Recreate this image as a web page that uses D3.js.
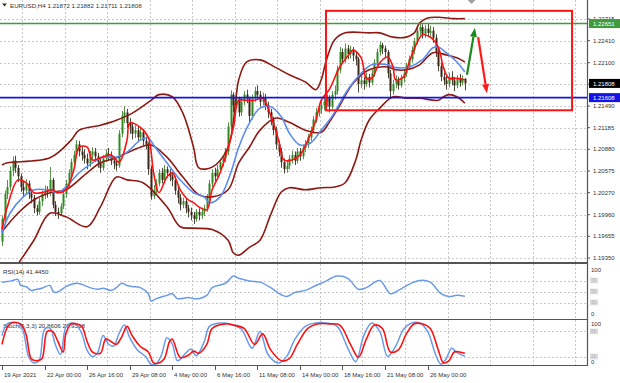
<!DOCTYPE html>
<html><head><meta charset="utf-8">
<script src="https://cdn.jsdelivr.net/npm/d3@7"></script>
<style>body{margin:0;background:#fff}svg{display:block}text{font-family:"Liberation Sans",Arial,sans-serif}</style>
</head><body><svg id="c" width="620" height="383"></svg>
<script>
// ---------------- DATA ----------------
const chartTitle = "EURUSD,H4 1.21872 1.21882 1.21711 1.21808";
const rsiTitle = "RSI(14) 41.4450";
const stochTitle = "Stoch(5,3,3) 20.8606 27.9318";
const firstOpen = 1.1958;
const closes = [1.1990,1.2025,1.2035,1.2058,1.2072,1.2062,1.2050,1.2035,1.2030,1.2040,
1.2025,1.2020,1.2005,1.2000,1.2015,1.2025,1.2030,1.2028,1.2045,1.2010,
1.2000,1.1998,1.2008,1.2025,1.2040,1.2055,1.2070,1.2080,1.2095,1.2085,
1.2080,1.2075,1.2068,1.2080,1.2085,1.2078,1.2070,1.2062,1.2075,1.2082,
1.2080,1.2072,1.2068,1.2065,1.2110,1.2135,1.2140,1.2125,1.2120,1.2110,
1.2115,1.2105,1.2112,1.2100,1.2095,1.2060,1.2022,1.2030,1.2040,1.2055,
1.2045,1.2060,1.2055,1.2050,1.2045,1.2030,1.2020,1.2010,1.2015,1.2005,
1.2000,1.1995,1.1990,1.2000,1.1995,1.2000,1.2005,1.2020,1.2040,1.2055,
1.2050,1.2060,1.2070,1.2075,1.2085,1.2120,1.2165,1.2150,1.2160,1.2140,
1.2155,1.2165,1.2160,1.2135,1.2160,1.2170,1.2165,1.2155,1.2160,1.2150,
1.2140,1.2130,1.2115,1.2095,1.2085,1.2070,1.2060,1.2065,1.2075,1.2080,
1.2072,1.2085,1.2078,1.2090,1.2095,1.2105,1.2115,1.2130,1.2140,1.2145,
1.2150,1.2155,1.2160,1.2148,1.2165,1.2170,1.2200,1.2225,1.2215,1.2230,
1.2222,1.2228,1.2220,1.2215,1.2180,1.2185,1.2180,1.2190,1.2182,1.2195,
1.2210,1.2225,1.2235,1.2230,1.2225,1.2195,1.2170,1.2180,1.2185,1.2178,
1.2188,1.2195,1.2205,1.2215,1.2228,1.2240,1.2255,1.2260,1.2250,1.2258,
1.2252,1.2255,1.2245,1.2225,1.2205,1.2190,1.2185,1.2180,1.2190,1.2185,
1.2178,1.2188,1.2182,1.21872,1.21808];
const highs = [1.1995,1.2030,1.2045,1.2064,1.2078,1.2079,1.2066,1.2054,1.2042,1.2046,
1.2044,1.2030,1.2024,1.2010,1.2020,1.2030,1.2037,1.2036,1.2063,1.2048,
1.2015,1.2006,1.2012,1.2030,1.2045,1.2060,1.2075,1.2086,1.2101,1.2100,
1.2092,1.2088,1.2082,1.2086,1.2091,1.2090,1.2083,1.2075,1.2080,1.2088,
1.2090,1.2085,1.2078,1.2074,1.2115,1.2142,1.2149,1.2145,1.2132,1.2126,
1.2122,1.2120,1.2118,1.2116,1.2106,1.2098,1.2065,1.2038,1.2046,1.2060,
1.2062,1.2066,1.2064,1.2060,1.2056,1.2050,1.2035,1.2025,1.2020,1.2018,
1.2010,1.2006,1.2000,1.2004,1.2005,1.2006,1.2010,1.2025,1.2045,1.2060,
1.2062,1.2066,1.2074,1.2080,1.2090,1.2126,1.2171,1.2168,1.2166,1.2162,
1.2160,1.2170,1.2172,1.2162,1.2165,1.2176,1.2178,1.2170,1.2168,1.2166,
1.2155,1.2145,1.2134,1.2120,1.2100,1.2090,1.2075,1.2072,1.2080,1.2086,
1.2085,1.2090,1.2090,1.2095,1.2101,1.2110,1.2120,1.2135,1.2146,1.2150,
1.2156,1.2162,1.2166,1.2164,1.2170,1.2178,1.2206,1.2232,1.2230,1.2237,
1.2235,1.2234,1.2232,1.2226,1.2218,1.2192,1.2190,1.2196,1.2194,1.2200,
1.2215,1.2230,1.2240,1.2238,1.2234,1.2228,1.2200,1.2186,1.2192,1.2190,
1.2193,1.2200,1.2210,1.2220,1.2233,1.2245,1.2260,1.2266,1.2264,1.2263,
1.2265,1.2262,1.2260,1.2250,1.2230,1.2210,1.2196,1.2192,1.2196,1.2198,
1.2190,1.2192,1.2194,1.2192,1.21882];
const lows = [1.1952,1.1985,1.2018,1.2030,1.2050,1.2055,1.2042,1.2028,1.2022,1.2025,
1.2018,1.2012,1.1998,1.1995,1.1996,1.2008,1.2018,1.2020,1.2022,1.2005,
1.1994,1.1990,1.1995,1.2004,1.2020,1.2036,1.2050,1.2065,1.2076,1.2078,
1.2072,1.2068,1.2060,1.2063,1.2074,1.2070,1.2062,1.2055,1.2058,1.2070,
1.2072,1.2066,1.2060,1.2058,1.2062,1.2105,1.2125,1.2118,1.2110,1.2102,
1.2104,1.2098,1.2100,1.2094,1.2088,1.2052,1.2017,1.2018,1.2026,1.2036,
1.2040,1.2042,1.2048,1.2043,1.2036,1.2024,1.2012,1.2002,1.2005,1.1998,
1.1992,1.1988,1.1983,1.1986,1.1988,1.1990,1.1994,1.2000,1.2016,1.2035,
1.2043,1.2046,1.2055,1.2064,1.2070,1.2080,1.2115,1.2140,1.2145,1.2134,
1.2135,1.2150,1.2153,1.2125,1.2130,1.2155,1.2158,1.2148,1.2150,1.2143,
1.2132,1.2122,1.2108,1.2088,1.2078,1.2062,1.2054,1.2055,1.2060,1.2068,
1.2066,1.2068,1.2072,1.2074,1.2084,1.2090,1.2100,1.2110,1.2125,1.2134,
1.2138,1.2143,1.2148,1.2140,1.2145,1.2158,1.2165,1.2195,1.2208,1.2210,
1.2215,1.2216,1.2212,1.2206,1.2168,1.2174,1.2172,1.2176,1.2175,1.2178,
1.2190,1.2205,1.2220,1.2222,1.2216,1.2188,1.2160,1.2165,1.2174,1.2172,
1.2175,1.2182,1.2190,1.2200,1.2210,1.2222,1.2236,1.2248,1.2244,1.2245,
1.2246,1.2245,1.2238,1.2218,1.2198,1.2184,1.2178,1.2172,1.2175,1.2178,
1.2170,1.2174,1.2176,1.2178,1.21711];

const timeLabels = ["19 Apr 2021","22 Apr 00:00","26 Apr 16:00","29 Apr 08:00","4 May 00:00","6 May 16:00","11 May 08:00","14 May 00:00","18 May 16:00","21 May 08:00","26 May 00:00"];
const timeLabelBars = [0,16,32,48,64,80,96,112,128,144,160];
const gridBars = [7.5,23.5,39.5,55.5,71.5,87.5,103.5,119.5,135.5,151.5,167.5,183.5,199.5,215.5];
const priceTicks = [1.22715,1.22410,1.22100,1.21795,1.21490,1.21185,1.20880,1.20575,1.20270,1.19960,1.19655,1.19350];

// indicator lines: [bar, value]
const bbUpper = [[0,1.2066],[2,1.2069],[18,1.2076],[26,1.2101],[29,1.2115],[37,1.2122],[43,1.2129],[49,1.2139],[56,1.2157],[59,1.2165],[64,1.2162],[68,1.2139],[72,1.2091],[74,1.2062],[79,1.2063],[85,1.2091],[88,1.2162],[89,1.2186],[92,1.2211],[97,1.2214],[103,1.2203],[108,1.2193],[114,1.2183],[118,1.2172],[120,1.2186],[122,1.2214],[125,1.2242],[129,1.2252],[138,1.2252],[142,1.2252],[147,1.2246],[152,1.2246],[155,1.2252],[157,1.2266],[160,1.2273],[164,1.2274],[170,1.2272],[174,1.2272]];
const bbMiddle = [[0,1.1972],[6,1.1998],[12,1.2017],[18,1.2027],[24,1.2031],[32,1.2055],[37,1.2069],[43,1.2076],[47,1.2083],[52,1.2091],[56,1.2094],[62,1.2077],[68,1.2049],[74,1.2024],[79,1.2021],[85,1.2031],[89,1.2069],[93,1.2091],[97,1.2115],[103,1.2132],[108,1.2126],[114,1.2115],[120,1.2112],[123,1.2126],[127,1.2150],[132,1.2181],[138,1.2200],[145,1.2204],[148,1.2200],[152,1.2200],[157,1.2207],[162,1.2224],[167,1.2221],[171,1.2217],[174,1.2211]];
const bbLower = [[0,1.1890],[4,1.1915],[7,1.1932],[12,1.1960],[18,1.1998],[24,1.1993],[32,1.1979],[37,1.2007],[43,1.2049],[47,1.2045],[53,1.2041],[62,1.2007],[67,1.1979],[72,1.1977],[79,1.1975],[85,1.1960],[87,1.1942],[89,1.1939],[93,1.1950],[97,1.1960],[101,1.1996],[105,1.2028],[108,1.2034],[114,1.2031],[120,1.2034],[125,1.2035],[129,1.2041],[133,1.2073],[135,1.2101],[138,1.2129],[142,1.2146],[147,1.2162],[152,1.2160],[157,1.2160],[164,1.2157],[166,1.2162],[168,1.2165],[171,1.2162],[174,1.2153]];
const maSlow = [[0,1.1970],[3,1.1998],[8,1.2021],[12,1.2031],[17,1.2031],[21,1.2027],[24,1.2035],[29,1.2055],[34,1.2069],[38,1.2077],[43,1.2077],[47,1.2084],[52,1.2101],[55,1.2104],[57,1.2094],[62,1.2069],[67,1.2045],[72,1.2027],[76,1.2021],[78,1.2013],[82,1.2021],[86,1.2055],[89,1.2091],[93,1.2125],[97,1.2146],[101,1.2148],[105,1.2134],[108,1.2111],[112,1.2094],[116,1.2097],[120,1.2115],[124,1.2134],[130,1.2172],[135,1.2195],[139,1.2207],[145,1.2207],[148,1.2203],[153,1.2204],[158,1.2214],[162,1.2231],[164,1.2232],[167,1.2224],[171,1.2211],[174,1.2197]];
const maFast = [[0,1.1975],[2,1.2007],[6,1.2045],[9,1.2041],[12,1.2027],[15,1.2027],[19,1.2031],[21,1.2027],[24,1.2031],[27,1.2059],[29,1.2091],[32,1.2091],[34,1.2073],[37,1.2076],[41,1.2080],[44,1.2070],[47,1.2101],[48,1.2125],[52,1.2119],[55,1.2105],[57,1.2055],[59,1.2027],[62,1.2049],[64,1.2055],[67,1.2031],[70,1.2017],[72,1.2013],[74,1.2007],[77,1.2003],[79,1.2031],[82,1.2055],[87,1.2119],[89,1.2157],[92,1.2157],[95,1.2157],[98,1.2160],[101,1.2136],[104,1.2101],[106,1.2073],[109,1.2073],[112,1.2080],[115,1.2101],[118,1.2129],[120,1.2157],[123,1.2172],[127,1.2204],[131,1.2224],[132,1.2228],[135,1.2217],[137,1.2188],[139,1.2188],[142,1.2210],[145,1.2218],[147,1.2204],[148,1.2186],[151,1.2190],[153,1.2210],[156,1.2238],[158,1.2249],[161,1.2246],[164,1.2232],[166,1.2203],[168,1.2188],[171,1.2188],[174,1.2186]];
const rsi14 = [[0,67],[2,68],[4,70],[6,72],[7,61],[9,59],[11,52],[13,54],[15,56],[18,61],[19,52],[20,48],[22,52],[24,59],[28,65],[30,63],[33,57],[36,54],[38,56],[41,52],[43,57],[45,65],[47,61],[49,59],[52,57],[55,46],[56,33],[58,37],[62,43],[64,46],[66,37],[70,39],[72,37],[74,37],[77,43],[79,57],[84,65],[87,78],[89,74],[93,69],[97,67],[101,57],[105,44],[107,41],[110,48],[114,52],[118,61],[121,67],[126,78],[130,74],[134,54],[137,57],[142,70],[146,46],[149,52],[153,63],[157,70],[161,67],[165,46],[168,41],[171,43],[174,41.445]];
const stochMain = [[0,70],[2,98],[6,100],[8,80],[10,20],[12,5],[14,12],[16,85],[18,88],[20,50],[22,25],[24,90],[26,100],[28,95],[30,75],[32,35],[34,20],[36,30],[38,70],[40,50],[42,45],[44,75],[46,95],[48,65],[51,35],[54,20],[56,2],[58,3],[60,25],[62,65],[64,50],[66,10],[69,28],[71,38],[73,22],[76,55],[78,92],[82,100],[86,97],[90,85],[94,40],[97,80],[100,25],[104,5],[107,20],[110,60],[114,92],[118,100],[122,100],[126,92],[130,40],[133,8],[136,70],[139,100],[142,80],[145,20],[148,45],[151,85],[154,100],[157,100],[160,80],[163,25],[165,2],[167,15],[169,40],[171,30],[174,20.86]];
const stochSignal = [[0,49],[3,98],[7,98],[9,74],[11,15],[13,10],[15,15],[17,80],[19,80],[21,56],[23,31],[24,74],[26,98],[28,98],[30,92],[32,56],[34,31],[37,28],[39,62],[41,56],[43,49],[45,67],[47,92],[49,69],[52,44],[55,31],[57,5],[59,5],[61,15],[63,56],[64,62],[67,18],[70,23],[72,33],[74,28],[77,49],[79,87],[84,98],[87,95],[91,87],[95,49],[98,74],[101,36],[105,10],[108,15],[111,49],[115,87],[119,98],[123,98],[127,95],[131,49],[134,18],[137,62],[140,95],[143,87],[146,31],[149,36],[152,74],[155,98],[158,98],[161,87],[164,36],[166,5],[168,10],[170,31],[172,31],[174,27.93]];
const rsiLevels = [70,50,30];
const stochLevels = [80,20];

// drawn objects (bar, price)
const resistanceLevel = 1.22651;
const supportLevel = 1.21608;
const lastPrice = 1.21808;
const boxZone = {barFrom:121.8, barTo:214.3, priceTop:1.2283, priceBottom:1.2143};
const arrowUp = {from:[174.8,1.2193], to:[177.8,1.2259]};
const arrowDown = {from:[179.0,1.2246], to:[182.3,1.2167]};
const shiftBar = 176.5;

// ---------------- CHART ----------------
const svg = d3.select("#c");
const W = 587;
const x = d3.scaleLinear().domain([0,174]).range([2, 2+2.66*174]);
const y = d3.scaleLinear().domain([1.19350,1.22715]).range([258,19]);
const rsiY = d3.scaleLinear().domain([0,100]).range([319,264]);
const stY = d3.scaleLinear().domain([0,100]).range([365,323]);

const defs = svg.append("defs");
[["cMain",0,0,W,262],["cRsi",0,264,W,55],["cSt",0,320,W,45]].forEach(([id,x0,y0,w,h])=>{
  defs.append("clipPath").attr("id",id).append("rect").attr("x",x0).attr("y",y0).attr("width",w).attr("height",h);
});

const gridCol = "#c9c9c9";
// vertical grid in all panels
const gGrid = svg.append("g");
gridBars.forEach(b=>{
  const gx = Math.round(x(b))+0.5;
  if (gx < W) [[0,262],[264,319],[320,365]].forEach(([a,bb])=>{
    gGrid.append("line").attr("x1",gx).attr("x2",gx).attr("y1",a).attr("y2",bb)
      .attr("stroke",gridCol).attr("stroke-dasharray","2,2").attr("stroke-width",1);
  });
});
// horizontal grid main
priceTicks.forEach(p=>{
  const gy = Math.round(y(p))+0.5;
  gGrid.append("line").attr("x1",0).attr("x2",W).attr("y1",gy).attr("y2",gy)
    .attr("stroke",gridCol).attr("stroke-dasharray","2,2");
});
rsiLevels.forEach(v=>{
  const gy = Math.round(rsiY(v))+0.5;
  gGrid.append("line").attr("x1",0).attr("x2",W).attr("y1",gy).attr("y2",gy)
    .attr("stroke",gridCol).attr("stroke-dasharray","2,2");
});
stochLevels.forEach(v=>{
  const gy = Math.round(stY(v))+0.5;
  gGrid.append("line").attr("x1",0).attr("x2",W).attr("y1",gy).attr("y2",gy)
    .attr("stroke",gridCol).attr("stroke-dasharray","2,2");
});

// title texts
const tf = 6.2;
svg.append("path").attr("d","M2,3.5 L7,3.5 L4.5,6.5 Z").attr("fill","#333");
svg.append("text").attr("x",10).attr("y",7.5).attr("font-size",tf).attr("fill","#333").text(chartTitle);
svg.append("text").attr("x",3).attr("y",273.5).attr("font-size",tf).attr("fill","#333").text(rsiTitle);
svg.append("text").attr("x",3).attr("y",328).attr("font-size",tf).attr("fill","#333").text(stochTitle);

// candles
const bars = closes.map((c,i)=>({i, o: i===0?firstOpen:closes[i-1], h: highs[i], l: lows[i], c}));
const gMain = svg.append("g").attr("clip-path","url(#cMain)");
const gC = gMain.append("g");
bars.forEach(d=>{
  const cx = Math.round(x(d.i));
  const up = d.c >= d.o;
  gC.append("line").attr("x1",cx+0.5).attr("x2",cx+0.5).attr("y1",y(d.h)).attr("y2",y(d.l))
    .attr("stroke", up ? "#5f8f4f" : "#4a4a3a").attr("stroke-width",1);
  const top = y(Math.max(d.o,d.c)), bot = y(Math.min(d.o,d.c));
  gC.append("rect").attr("x",cx-0.5).attr("y",top).attr("width",2).attr("height",Math.max(1,bot-top))
    .attr("fill", up ? "#2f8a1f" : "#3a2616");
});

const lineP = d3.line().x(d=>x(d[0])).y(d=>y(d[1])).curve(d3.curveCatmullRom.alpha(0.5));
const bbCol = "#8e1a14";
[bbUpper,bbMiddle,bbLower].forEach(s=>{
  gMain.append("path").attr("d",lineP(s)).attr("fill","none").attr("stroke",bbCol).attr("stroke-width",1.6);
});
gMain.append("path").attr("d",lineP(maSlow)).attr("fill","none").attr("stroke","#5b8def").attr("stroke-width",1.6);
gMain.append("path").attr("d",lineP(maFast)).attr("fill","none").attr("stroke","#ff1010").attr("stroke-width",1.6);

// horizontal levels
gMain.append("line").attr("x1",0).attr("x2",W).attr("y1",y(resistanceLevel)).attr("y2",y(resistanceLevel))
  .attr("stroke","#3f9a3a").attr("stroke-width",1.6);
gMain.append("line").attr("x1",0).attr("x2",W).attr("y1",y(supportLevel)).attr("y2",y(supportLevel))
  .attr("stroke","#1414e6").attr("stroke-width",1.6);

// rectangle
gMain.append("rect").attr("x",x(boxZone.barFrom)).attr("y",y(boxZone.priceTop))
  .attr("width",x(boxZone.barTo)-x(boxZone.barFrom)).attr("height",y(boxZone.priceBottom)-y(boxZone.priceTop))
  .attr("fill","none").attr("stroke","#ff1414").attr("stroke-width",2);

// arrows
function arrow(a,col){
  const x1=x(a.from[0]), y1=y(a.from[1]), x2=x(a.to[0]), y2=y(a.to[1]);
  const ang = Math.atan2(y2-y1,x2-x1), L=9, Wd=3.5;
  const bx = x2 - L*Math.cos(ang), by = y2 - L*Math.sin(ang);
  gMain.append("line").attr("x1",x1).attr("y1",y1).attr("x2",bx).attr("y2",by).attr("stroke",col).attr("stroke-width",2.2);
  const px = -Math.sin(ang), py = Math.cos(ang);
  gMain.append("path").attr("d",`M${x2},${y2} L${bx+px*Wd},${by+py*Wd} L${bx-px*Wd},${by-py*Wd} Z`).attr("fill",col);
}
arrow(arrowUp,"#1d8a1d");
arrow(arrowDown,"#ff1a1a");

// chart-shift marker
const sx = x(shiftBar);
svg.append("path").attr("d",`M${sx-4},0 L${sx+4},0 L${sx},4 Z`).attr("fill","#a0a0a0");

// RSI
const gR = svg.append("g").attr("clip-path","url(#cRsi)");
gR.append("path").attr("d",d3.line().x(d=>x(d[0])).y(d=>rsiY(d[1])).curve(d3.curveCatmullRom.alpha(0.5))(rsi14))
  .attr("fill","none").attr("stroke","#6a9be8").attr("stroke-width",1.5);

// Stoch
const gS = svg.append("g").attr("clip-path","url(#cSt)");
const stLine = d3.line().x(d=>x(d[0])).y(d=>stY(d[1])).curve(d3.curveCatmullRom.alpha(0.5));
gS.append("path").attr("d",stLine(stochMain)).attr("fill","none").attr("stroke","#6a9be8").attr("stroke-width",1.5);
gS.append("path").attr("d",stLine(stochSignal)).attr("fill","none").attr("stroke","#ff1010").attr("stroke-width",1.6);

// panel borders
const bc = "#555";
svg.append("line").attr("x1",W+0.5).attr("x2",W+0.5).attr("y1",0).attr("y2",366).attr("stroke",bc).attr("stroke-width",1.2);
[263,319.5,365.5].forEach(v=>{
  svg.append("line").attr("x1",0).attr("x2",W+1).attr("y1",v).attr("y2",v).attr("stroke",bc).attr("stroke-width",v===263?1.8:1.2);
});

// right price axis
const af = 6;
const fmt = d3.format(".5f");
priceTicks.forEach(p=>{
  const py = y(p);
  svg.append("line").attr("x1",W).attr("x2",W+3).attr("y1",py).attr("y2",py).attr("stroke","#555");
  svg.append("text").attr("x",593).attr("y",py).attr("dy","0.35em").attr("font-size",af).attr("fill","#333").text(fmt(p));
});
[[resistanceLevel,"#3f9a3a"],[lastPrice,"#000"],[supportLevel,"#1414e6"]].forEach(([p,col])=>{
  const py = y(p);
  svg.append("rect").attr("x",589).attr("y",py-4.5).attr("width",31).attr("height",9).attr("fill",col);
  svg.append("text").attr("x",593).attr("y",py).attr("dy","0.35em").attr("font-size",af).attr("fill","#fff").text(fmt(p));
});

// indicator axes
function lvlBox(py,t){
  svg.append("rect").attr("x",590).attr("y",py-2.8).attr("width",8).attr("height",5.6).attr("fill","#dcdcdc");
  svg.append("text").attr("x",591).attr("y",py).attr("dy","0.35em").attr("font-size",4.5).attr("fill","#b5b5b5").text(t);
}
svg.append("text").attr("x",591).attr("y",270).attr("dy","0.35em").attr("font-size",af).attr("fill","#333").text("100");
svg.append("text").attr("x",591).attr("y",313.5).attr("dy","0.35em").attr("font-size",af).attr("fill","#333").text("0");
rsiLevels.forEach(v=>lvlBox(rsiY(v),String(v)));
svg.append("text").attr("x",591).attr("y",324).attr("dy","0.35em").attr("font-size",af).attr("fill","#333").text("100");
svg.append("text").attr("x",591).attr("y",362).attr("dy","0.35em").attr("font-size",af).attr("fill","#333").text("0");
stochLevels.forEach(v=>lvlBox(stY(v),String(v)));

// time axis
timeLabels.forEach((t,k)=>{
  const tx = Math.round(x(timeLabelBars[k]))+0.5;
  svg.append("line").attr("x1",tx).attr("x2",tx).attr("y1",366).attr("y2",370).attr("stroke","#555");
  svg.append("text").attr("x",tx+1.5).attr("y",376.5).attr("font-size",af).attr("fill","#333").text(t);
});
</script>
</body></html>
